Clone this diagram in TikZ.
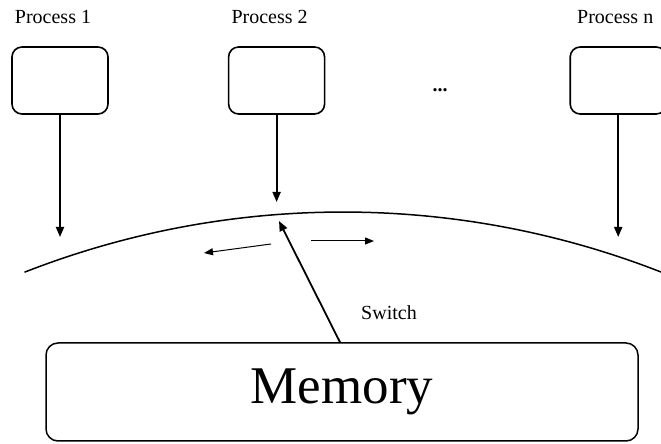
\documentclass[tikz,border=0pt]{standalone}
\usepackage{fontspec}
\setmainfont{Liberation Serif}
\usetikzlibrary{positioning,arrows.meta}

\begin{document}
\begin{tikzpicture}[x=1pt, y=1pt, node distance=1em, arrow/.style={-{Triangle[length=10pt,width=8pt]}, line width=1.8pt}, smallarrow/.style={-{Triangle[length=9pt,width=7pt]}, line width=1pt}, roundedrect/.style={rectangle, draw, line width=1.6pt, rounded corners=10pt, minimum width=96pt, minimum height=67pt}, membox/.style={rectangle, draw, line width=1.5pt, rounded corners=12pt, minimum width=592pt, minimum height=98pt, font=\fontsize{53}{60}\selectfont}, proclabel/.style={font=\fontsize{20}{24}\selectfont, inner sep=0pt}]

        \useasboundingbox (0,0) rectangle (661,444);

        \node [roundedrect] (p1) at (60,363.5) {};
        \node [roundedrect, right = 119pt of p1] (p2) {};
        \node [roundedrect, right = 244pt of p2] (pn) {};
        \node [proclabel, above = 23pt of p1, anchor=base, xshift=-7pt] (t1) {Process 1};
        \node [proclabel, above = 23pt of p2, anchor=base, xshift=-7pt] (t2) {Process 2};
        \node [proclabel, above = 23pt of pn, anchor=base, xshift=-3pt] (tn) {Process n};
        \node [proclabel, anchor=base] (dots) at (440,352) {\textbf{...}};
        \node [membox] (mem) at (342,52) {Memory};
        \node [proclabel] (swl) at (389,131) {Switch};

        \coordinate (ctr) at (343,-641);
        \coordinate (tip1) at (p1.south |- 0,207);
        \coordinate (tip2) at (p2.south |- 0,242);
        \coordinate (tipn) at (pn.south |- 0,207);
        \coordinate (sw) at (279,223);
        \coordinate (la0) at (271,200);
        \coordinate (la1) at (204,191);
        \coordinate (ra0) at (311,203);
        \coordinate (ra1) at (374,203);

        \draw[line width=1.5pt] ([shift={(111.4:873)}]ctr) arc[start angle=111.4, end angle=68.6, radius=873];

        \draw[arrow] (p1.south) -- (tip1);
        \draw[arrow] (p2.south) -- (tip2);
        \draw[arrow] (pn.south) -- (tipn);
        \draw[arrow] ([xshift=-2pt]mem.north) -- (sw);
        \draw[smallarrow] (la0) -- (la1);
        \draw[smallarrow] (ra0) -- (ra1);

    \end{tikzpicture}
\end{document}
